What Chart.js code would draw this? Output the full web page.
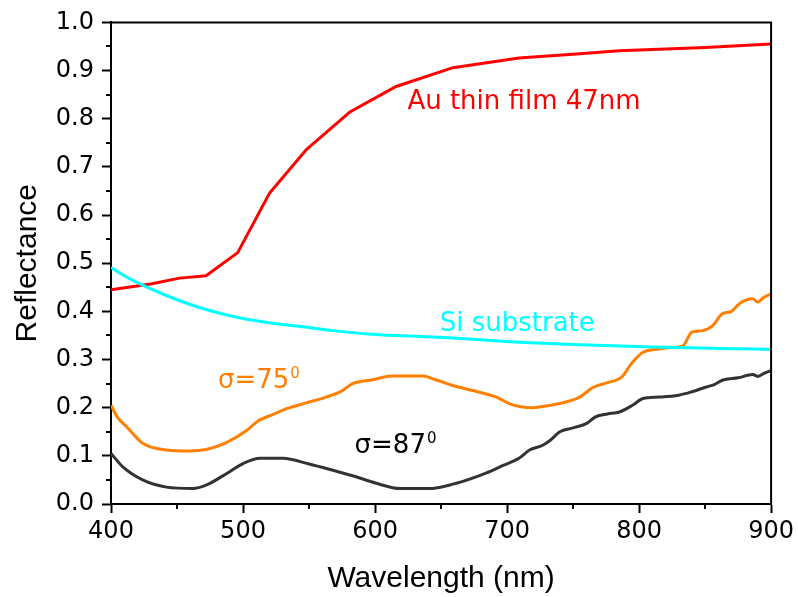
<!DOCTYPE html>
<html>
<head>
<meta charset="utf-8">
<script src="https://cdn.jsdelivr.net/npm/chart.js"></script>
<style>
  body { margin: 0; background: #fff; }
  #wrap { width: 798px; height: 597px; }
</style>
</head>
<body>
<div id="wrap"><canvas id="myChart" width="798" height="597"></canvas></div>
<script>
// Au thin film 47nm
var auX = [400, 430, 452, 472, 496, 520, 548, 581, 616, 659, 709, 750, 785, 850, 900];
var auY = [0.445, 0.457, 0.469, 0.474, 0.522, 0.645, 0.736, 0.814, 0.867, 0.906, 0.926, 0.934, 0.941, 0.948, 0.955];

// Si substrate
var siX = [400, 410, 422, 440, 467, 490, 518, 545, 568, 600, 634, 656, 680, 709, 750, 810, 860, 900];
var siY = [0.491, 0.474, 0.457, 0.435, 0.408, 0.391, 0.377, 0.368, 0.360, 0.352, 0.348, 0.345, 0.341, 0.336, 0.331, 0.326, 0.323, 0.321];

// sigma = 75
var s75X = [400, 405, 412, 424, 442, 460, 472, 487, 503, 511, 522, 533, 548, 563, 575, 583, 598, 613, 636, 646, 659, 675, 692, 702, 719, 728, 737, 755, 765, 776, 787, 794, 803, 815, 825, 833, 840, 848, 856, 863, 870, 876, 886, 890, 894, 900];
var s75Y = [0.205, 0.180, 0.160, 0.126, 0.112, 0.110, 0.113, 0.127, 0.153, 0.172, 0.185, 0.198, 0.210, 0.222, 0.235, 0.250, 0.258, 0.266, 0.266, 0.258, 0.246, 0.235, 0.222, 0.208, 0.200, 0.203, 0.207, 0.222, 0.242, 0.252, 0.264, 0.291, 0.315, 0.322, 0.325, 0.328, 0.357, 0.360, 0.371, 0.395, 0.400, 0.416, 0.426, 0.419, 0.428, 0.436];

// sigma = 87
var s87X = [400, 409, 424, 442, 462, 472, 488, 500, 513, 530, 550, 568, 585, 601, 619, 641, 656, 670, 684, 697, 709, 717, 727, 733, 740, 750, 760, 767, 776, 785, 795, 803, 815, 830, 840, 851, 857, 863, 875, 886, 890, 895, 900];
var s87Y = [0.105, 0.077, 0.050, 0.035, 0.032, 0.039, 0.064, 0.084, 0.095, 0.095, 0.083, 0.070, 0.057, 0.043, 0.032, 0.032, 0.039, 0.050, 0.064, 0.080, 0.095, 0.112, 0.122, 0.133, 0.150, 0.158, 0.167, 0.181, 0.187, 0.191, 0.205, 0.219, 0.222, 0.226, 0.233, 0.243, 0.248, 0.257, 0.262, 0.269, 0.265, 0.272, 0.277];

var xTicks = [400, 500, 600, 700, 800, 900];
var yTicks = [0.0, 0.1, 0.2, 0.3, 0.4, 0.5, 0.6, 0.7, 0.8, 0.9, 1.0];

function pts(xs, ys) {
  return xs.map(function (x, i) { return {x: x, y: ys[i]}; });
}

// text labels placed at data coordinates
var notes = [
  {text: "Au thin film 47nm", x: 624.5, y: 0.82, color: "#ff0000"},
  {text: "Si substrate", x: 649, y: 0.36, color: "#00ffff"},
  {text: "\u03c3=75", sup: "0", x: 481, y: 0.24, color: "#ff8000"},
  {text: "\u03c3=87", sup: "0", x: 584.5, y: 0.106, color: "#000000"}
];

var framePlugin = {
  id: "frame",
  afterDatasetsDraw: function (chart) {
    var ctx = chart.ctx, a = chart.chartArea;
    var xs = chart.scales.x, ys = chart.scales.y;
    ctx.save();
    // top and right border
    ctx.strokeStyle = "#000";
    ctx.lineWidth = 2;
    ctx.beginPath();
    ctx.moveTo(a.left, a.top);
    ctx.lineTo(a.right, a.top);
    ctx.lineTo(a.right, a.bottom);
    ctx.stroke();
    // minor ticks
    ctx.beginPath();
    for (var v = 450; v < 900; v += 100) {
      var px = Math.round(xs.getPixelForValue(v));
      ctx.moveTo(px, a.bottom);
      ctx.lineTo(px, a.bottom + 5);
    }
    for (var k = 0; k < 10; k++) {
      var py = Math.round(ys.getPixelForValue(k * 0.1 + 0.05));
      ctx.moveTo(a.left, py);
      ctx.lineTo(a.left - 5, py);
    }
    ctx.stroke();
    // notes
    ctx.textBaseline = "alphabetic";
    ctx.textAlign = "left";
    notes.forEach(function (n) {
      var x = xs.getPixelForValue(n.x), y = ys.getPixelForValue(n.y);
      ctx.fillStyle = n.color;
      ctx.font = "26px 'DejaVu Sans'";
      ctx.fillText(n.text, x, y);
      if (n.sup) {
        var w = ctx.measureText(n.text).width;
        ctx.font = "15px 'DejaVu Sans'";
        ctx.fillText(n.sup, x + w + 1, y - 10);
      }
    });
    ctx.restore();
  }
};

new Chart("myChart", {
  type: "line",
  data: {
    datasets: [
      {data: pts(siX, siY), borderColor: "#00ffff", borderWidth: 3, pointRadius: 0, cubicInterpolationMode: "monotone", fill: false},
      {data: pts(s87X, s87Y), borderColor: "#333333", borderWidth: 3, pointRadius: 0, cubicInterpolationMode: "monotone", fill: false},
      {data: pts(s75X, s75Y), borderColor: "#ff8000", borderWidth: 3, pointRadius: 0, cubicInterpolationMode: "monotone", fill: false},
      {data: pts(auX, auY), borderColor: "#ff0000", borderWidth: 3, pointRadius: 0, tension: 0, fill: false}
    ]
  },
  options: {
    responsive: false,
    animation: false,
    layout: {padding: {left: 0, right: 26, top: 20, bottom: 0}},
    plugins: {legend: {display: false}, tooltip: {enabled: false}},
    scales: {
      x: {
        type: "linear",
        min: 400, max: 900,
        afterBuildTicks: function (s) { s.ticks = xTicks.map(function (v) { return {value: v}; }); },
        afterFit: function (s) { s.height = 93; },
        grid: {drawOnChartArea: false, tickLength: 9, tickWidth: 2, tickColor: "#000"},
        border: {color: "#000", width: 2},
        ticks: {color: "#000", font: {family: "DejaVu Sans", size: 24}, padding: 4, maxRotation: 0},
        title: {display: true, text: "Wavelength (nm)", color: "#000", font: {family: "Liberation Sans", size: 30}, padding: {top: 0, bottom: 0}}
      },
      y: {
        min: 0, max: 1,
        afterBuildTicks: function (s) { s.ticks = yTicks.map(function (v) { return {value: v}; }); },
        afterFit: function (s) { s.width = 111; },
        grid: {drawOnChartArea: false, tickLength: 9, tickWidth: 2, tickColor: "#000"},
        border: {color: "#000", width: 2},
        ticks: {color: "#000", font: {family: "DejaVu Sans", size: 24}, padding: 8,
          callback: function (v) { return v.toFixed(1); }},
        title: {display: true, text: "Reflectance", color: "#000", font: {family: "Liberation Sans", size: 30}, padding: {top: 10, bottom: 0}}
      }
    }
  },
  plugins: [framePlugin]
});
</script>
</body>
</html>
